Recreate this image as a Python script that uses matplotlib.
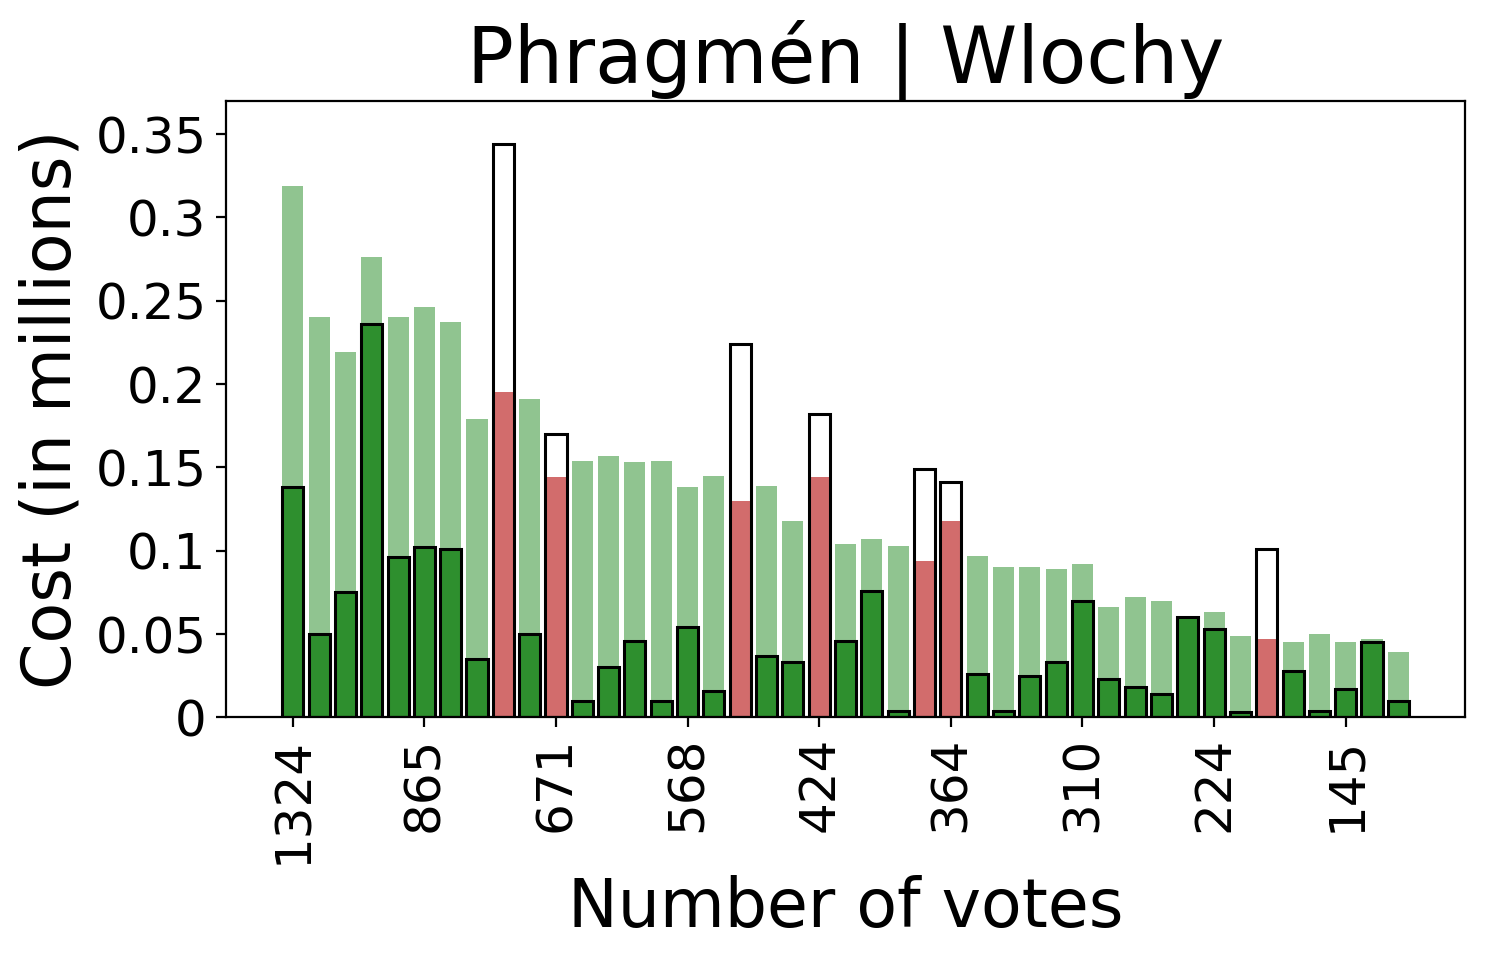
import matplotlib
matplotlib.use("Agg")
import matplotlib.pyplot as plt
import numpy as np

tick_labels = ["1324", "865", "671", "568", "424", "364", "310", "224", "145"]

# light green (share) values for funded projects; 0 for unfunded
share = [0.319, 0.240, 0.219, 0.276, 0.240, 0.246, 0.237, 0.179, 0.0, 0.191,
         0.0, 0.154, 0.157, 0.153, 0.154, 0.138, 0.145, 0.0, 0.139, 0.118,
         0.0, 0.104, 0.107, 0.103, 0.0, 0.0, 0.097, 0.090, 0.090, 0.089,
         0.092, 0.066, 0.072, 0.070, 0.061, 0.063, 0.049, 0.0, 0.045, 0.050,
         0.045, 0.047, 0.039]
# dark green cost values for funded projects; 0 for unfunded
funded_cost = [0.138, 0.050, 0.075, 0.236, 0.096, 0.102, 0.101, 0.035, 0.0, 0.050,
               0.0, 0.010, 0.030, 0.046, 0.010, 0.054, 0.016, 0.0, 0.037, 0.033,
               0.0, 0.046, 0.076, 0.004, 0.0, 0.0, 0.026, 0.004, 0.025, 0.033,
               0.070, 0.023, 0.018, 0.014, 0.060, 0.053, 0.003, 0.0, 0.028, 0.004,
               0.017, 0.045, 0.010]
# unfunded projects: red (share) and white outline (cost)
unfunded_share = [0, 0, 0, 0, 0, 0, 0, 0, 0.195, 0,
                  0.144, 0, 0, 0, 0, 0, 0, 0.130, 0, 0,
                  0.144, 0, 0, 0, 0.094, 0.118, 0, 0, 0, 0,
                  0, 0, 0, 0, 0, 0, 0, 0.047, 0, 0,
                  0, 0, 0]
unfunded_cost = [0, 0, 0, 0, 0, 0, 0, 0, 0.344, 0,
                 0.170, 0, 0, 0, 0, 0, 0, 0.224, 0, 0,
                 0.182, 0, 0, 0, 0.149, 0.141, 0, 0, 0, 0,
                 0, 0, 0, 0, 0, 0, 0, 0.101, 0, 0,
                 0, 0, 0]

x = np.arange(len(share))
fu = np.array(funded_cost)
uc = np.array(unfunded_cost)

fig, ax = plt.subplots(figsize=(7.43, 4.795), dpi=200)
w = 0.8
ax.bar(x, share, width=w, color="forestgreen", alpha=0.5, linewidth=0)
m = fu > 0
ax.bar(x[m], fu[m], width=w, color="#2e8f2e", edgecolor="black", linewidth=1.1)
m2 = uc > 0
ax.bar(x[m2], np.array(unfunded_share)[m2], width=w, color="indianred", alpha=0.9, linewidth=0)
ax.bar(x[m2], uc[m2], width=w, fill=False, edgecolor="black", linewidth=1.1)

ax.set_xticks(x[::5])
ax.set_xticklabels(tick_labels, rotation=90, fontsize=18)
yt = [0, 0.05, 0.1, 0.15, 0.2, 0.25, 0.3, 0.35]
ax.set_yticks(yt)
ax.set_yticklabels(["%g" % v for v in yt], fontsize=18)
ax.set_ylim(0, 0.37)
ax.set_xlabel("Number of votes", fontsize=24)
ax.set_ylabel("Cost (in millions)", fontsize=24)
ax.set_title("Phragmén | Wlochy", fontsize=28)
fig.subplots_adjust(left=0.152, right=0.986, top=0.895, bottom=0.252)
fig.savefig("out.png", dpi=200)
